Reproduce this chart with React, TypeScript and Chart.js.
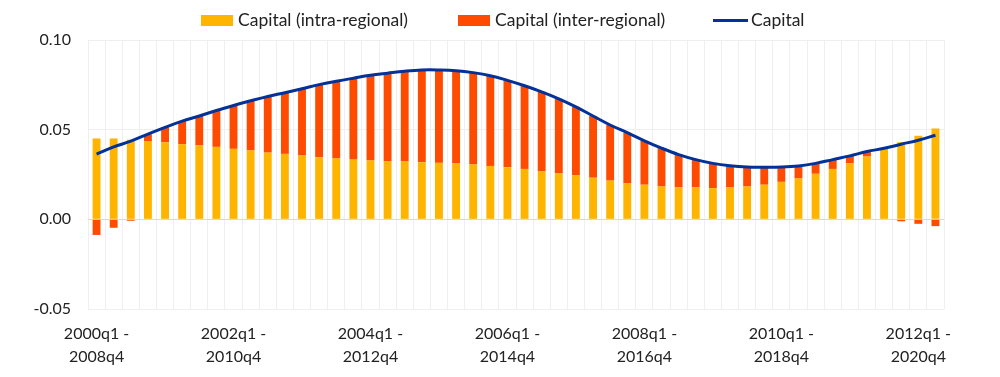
import React, { useEffect, useRef } from "react";
import { Chart, registerables } from "chart.js";

Chart.register(...registerables);

const categories: string[] = [
  "2000q1 - 2008q4", "2000q2 - 2009q1", "2000q3 - 2009q2", "2000q4 - 2009q3",
  "2001q1 - 2009q4", "2001q2 - 2010q1", "2001q3 - 2010q2", "2001q4 - 2010q3",
  "2002q1 - 2010q4", "2002q2 - 2011q1", "2002q3 - 2011q2", "2002q4 - 2011q3",
  "2003q1 - 2011q4", "2003q2 - 2012q1", "2003q3 - 2012q2", "2003q4 - 2012q3",
  "2004q1 - 2012q4", "2004q2 - 2013q1", "2004q3 - 2013q2", "2004q4 - 2013q3",
  "2005q1 - 2013q4", "2005q2 - 2014q1", "2005q3 - 2014q2", "2005q4 - 2014q3",
  "2006q1 - 2014q4", "2006q2 - 2015q1", "2006q3 - 2015q2", "2006q4 - 2015q3",
  "2007q1 - 2015q4", "2007q2 - 2016q1", "2007q3 - 2016q2", "2007q4 - 2016q3",
  "2008q1 - 2016q4", "2008q2 - 2017q1", "2008q3 - 2017q2", "2008q4 - 2017q3",
  "2009q1 - 2017q4", "2009q2 - 2018q1", "2009q3 - 2018q2", "2009q4 - 2018q3",
  "2010q1 - 2018q4", "2010q2 - 2019q1", "2010q3 - 2019q2", "2010q4 - 2019q3",
  "2011q1 - 2019q4", "2011q2 - 2020q1", "2011q3 - 2020q2", "2011q4 - 2020q3",
  "2012q1 - 2020q4", "2012q2 - 2021q1",
];

const intraRegional: number[] = [
  0.0451, 0.0451, 0.0444, 0.0434, 0.0429, 0.0419, 0.0412, 0.0404, 0.0393, 0.0384,
  0.0372, 0.0365, 0.0356, 0.0346, 0.0339, 0.0333, 0.0328, 0.0322, 0.0322, 0.0318,
  0.0315, 0.0311, 0.0306, 0.0298, 0.0290, 0.0281, 0.0267, 0.0256, 0.0245, 0.0232,
  0.0216, 0.0200, 0.0193, 0.0183, 0.0178, 0.0178, 0.0174, 0.0178, 0.0183, 0.0193,
  0.0209, 0.0228, 0.0254, 0.0281, 0.0312, 0.0350, 0.0393, 0.0430, 0.0466, 0.0507,
];

const interRegional: number[] = [
  -0.0087, -0.0047, -0.0008, 0.0041, 0.0084, 0.0129, 0.0164, 0.0203, 0.0242, 0.0277,
  0.0313, 0.0341, 0.0372, 0.0405, 0.0431, 0.0454, 0.0475, 0.0493, 0.0504, 0.0515,
  0.0518, 0.0518, 0.0512, 0.0503, 0.0485, 0.0464, 0.0444, 0.0416, 0.0382, 0.0344,
  0.0310, 0.0283, 0.0245, 0.0214, 0.0183, 0.0155, 0.0138, 0.0121, 0.0109, 0.0098,
  0.0083, 0.0070, 0.0058, 0.0052, 0.0042, 0.0028, 0.0003, -0.0011, -0.0025, -0.0038,
];

const capitalTotal: number[] = [
  0.0364, 0.0404, 0.0436, 0.0475, 0.0513, 0.0548, 0.0576, 0.0607, 0.0635, 0.0661,
  0.0685, 0.0706, 0.0728, 0.0751, 0.0770, 0.0787, 0.0803, 0.0815, 0.0826, 0.0833,
  0.0833, 0.0829, 0.0818, 0.0801, 0.0775, 0.0745, 0.0711, 0.0672, 0.0627, 0.0576,
  0.0526, 0.0483, 0.0438, 0.0397, 0.0361, 0.0333, 0.0312, 0.0299, 0.0292, 0.0291,
  0.0292, 0.0298, 0.0312, 0.0333, 0.0354, 0.0378, 0.0396, 0.0419, 0.0441, 0.0469,
];

const yTicks: number[] = [-0.05, 0.0, 0.05, 0.1];

const COLORS = {
  intra: "#FFB400",
  inter: "#FF4B00",
  line: "#003299",
  text: "#222222",
};

const FONT = "Lato, 'Open Sans', sans-serif";

export default function App() {
  const canvasRef = useRef<HTMLCanvasElement | null>(null);

  useEffect(() => {
    if (!canvasRef.current) return;
    const chart = new Chart(canvasRef.current, {
      type: "bar",
      data: {
        labels: categories,
        datasets: [
          {
            type: "line",
            label: "Capital",
            data: capitalTotal,
            borderColor: COLORS.line,
            backgroundColor: COLORS.line,
            borderWidth: 3,
            pointRadius: 0,
            tension: 0.4,
            stack: "line",
            order: 0,
          } as any,
          {
            label: "Capital (intra-regional)",
            data: intraRegional,
            backgroundColor: COLORS.intra,
            stack: "bars",
            order: 1,
            categoryPercentage: 1,
            barPercentage: 0.46,
          },
          {
            label: "Capital (inter-regional)",
            data: interRegional,
            backgroundColor: COLORS.inter,
            stack: "bars",
            order: 2,
            categoryPercentage: 1,
            barPercentage: 0.46,
          },
        ],
      },
      options: {
        animation: false,
        responsive: true,
        maintainAspectRatio: false,
        layout: { padding: { top: 32, right: 48, left: 0, bottom: 0 } },
        plugins: {
          legend: { display: false },
          tooltip: { enabled: false },
        },
        scales: {
          x: {
            stacked: true,
            grid: { color: "#efefef", drawTicks: false, offset: true },
            border: { display: false },
            ticks: {
              autoSkip: false,
              maxRotation: 0,
              minRotation: 0,
              padding: 14,
              color: COLORS.text,
              font: { family: FONT, size: 16, lineHeight: 1.4 },
              callback: (_v: any, i: number) => {
                if (i % 8 !== 0) return "";
                const parts = categories[i].split(" - ");
                return [parts[0] + " -", parts[1]];
              },
            },
            afterFit: (scale: any) => {
              scale.height = 60;
            },
          },
          y: {
            stacked: true,
            min: -0.05,
            max: 0.1,
            afterBuildTicks: (scale: any) => {
              scale.ticks = yTicks.map((v) => ({ value: v }));
            },
            grid: {
              drawTicks: false,
              color: (ctx: any) =>
                ctx.tick && Math.abs(ctx.tick.value) < 1e-9 ? "#d9d9d9" : "#efefef",
            },
            border: { display: false },
            ticks: {
              padding: 17,
              color: COLORS.text,
              font: { family: FONT, size: 16 },
              callback: (v: any) => Number(v).toFixed(2),
            },
            afterFit: (scale: any) => {
              scale.width = 80;
            },
          },
        },
      },
    });
    return () => chart.destroy();
  }, []);

  const textStyle: React.CSSProperties = {
    position: "absolute",
    top: 0,
    height: 24,
    lineHeight: "24px",
    fontFamily: FONT,
    fontSize: 17.5,
    color: COLORS.text,
    whiteSpace: "nowrap",
  };

  return (
    <div style={{ position: "relative", width: 984, height: 361 }}>
      <canvas ref={canvasRef} />
      <div style={{ position: "absolute", left: 193, top: 7, width: 32, height: 11, background: COLORS.intra }} />
      <div style={{ ...textStyle, left: 230 }}>Capital (intra-regional)</div>
      <div style={{ position: "absolute", left: 450, top: 7, width: 32, height: 11, background: COLORS.inter }} />
      <div style={{ ...textStyle, left: 487 }}>Capital (inter-regional)</div>
      <div style={{ position: "absolute", left: 705, top: 11, width: 35, height: 3, background: COLORS.line }} />
      <div style={{ ...textStyle, left: 743 }}>Capital</div>
    </div>
  );
}
